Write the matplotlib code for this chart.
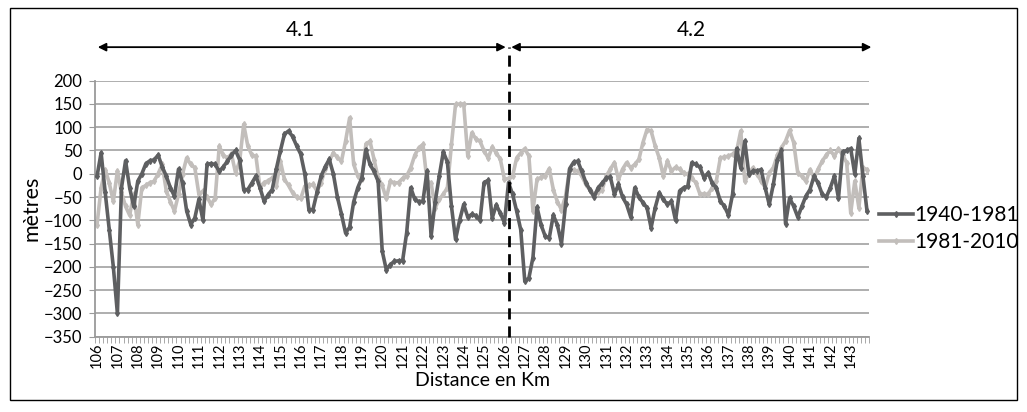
import numpy as np
import matplotlib
matplotlib.use("Agg")
import matplotlib.pyplot as plt
from matplotlib.patches import Rectangle

plt.rcParams['font.family'] = ['Lato', 'DejaVu Sans']

# distance along the river, one point every 0.2 km
km = np.round(106 + 0.2 * np.arange(190), 1)

s1940 = [-5, 45, -40, -120, -200,   -300, -30, 28, -30, -70,
         -16, 0, 22, 28, 30,        40, 15, -5, -30, -48,
         10, -20, -80, -109, -95,   -55, -100, 20, 22, 20,
         5, 15, 27, 40, 50,         30, -34, -34, -20, -5,
         -30, -59, -45, -34, 10,    49, 85, 92, 80, 60,
         42, 0, -77, -77, -40,      -5, 15, 31, 0, -50,
         -87, -127, -115, -60, -30, -9, 52, 20, 5, -16,
         -166, -206, -195, -188, -187, -187, -127, -30, -55, -60,
         -59, 6, -134, -60, -5,     47, 25, -70, -141, -100,
         -66, -93, -87, -90, -100,  -19, -14, -95, -67, -85,
         -105, -19, -44, -80, -120, -231, -224, -180, -72, -110,
         -134, -138, -89, -110, -150, -66, 11, 25, 27, 5,
         -19, -35, -50, -30, -20,   -9, -7, -44, -23, -50,
         -66, -93, -30, -50, -62,   -73, -116, -73, -41, -55,
         -66, -59, -100, -37, -30,  -27, 24, 20, 14, -9,
         2, -20, -30, -59, -70,     -89, -44, 54, 13, 70,
         -1, 6, 6, 9, -30,          -66, -23, 30, 50, -107,
         -52, -70, -93, -70, -48,   -34, -5, -20, -44, -50,
         -30, -5, -52, 47, 50,      54, -1, 76, -5, -80]

s1981 = [-109, -30, 9, -20, -59,    6, -40, -70, -89, -44,
         -109, -30, -25, -19, -16,  0, 20, -37, -60, -80,
         -44, 0, 34, 20, 13,        -44, -37, -50, -66, -52,
         59, 40, 34, 42, 2,         27, 106, 60, 40, 38,
         -30, -19, -15, -9, -27,    27, -12, -25, -41, -50,
         -53, -27, -25, -23, -37,   -19, 10, 27, 45, 35,
         27, 70, 120, 20, -5,       -12, 64, 70, 30, -9,
         -25, -53, -16, -20, -19,   -10, -5, 13, 40, 56,
         63, -16, -20, -73, -55,    -44, -30, 63, 149, 150,
         150, 38, 88, 75, 70,       49, 34, 57, 45, 31,
         -12, -10, -5, 34, 45,      54, 38, -79, -12, -8,
         -5, 11, -34, -60, -77,     -48, 9, 8, 6, -5,
         -23, -35, -44, -40, -34,   -5, 10, 24, -12, 10,
         24, 13, 20, 31, 67,        95, 92, 60, 34, -5,
         27, 6, 14, 10, 2,          -1, -10, -19, -44, -43,
         -44, -30, -16, 34, 36,     38, 42, 49, 92, -16,
         0, 13, -1, -15, -30,       2, 13, 40, 56, 70,
         93, 67, 2, -5, -16,        9, -9, 10, 27, 40,
         50, 38, 54, 40, 24,        -84, -16, -73, 13, 9]

labels = ["1940-1981", "1981-2010"]
split_km = 126.2

fig = plt.figure(figsize=(10.27, 4.12), dpi=100)
ax = fig.add_axes([0.0925, 0.1828, 0.7537, 0.6214])

ax.plot(km, s1940, color="#5e5f61", lw=2.6, marker="d", ms=3, label=labels[0], zorder=3)
ax.plot(km, s1981, color="#c2bebb", lw=2.6, marker="d", ms=3, label=labels[1], zorder=2)

ax.set_xlim(105.9, 143.9)
ax.set_ylim(-350, 200)
ax.set_yticks(np.arange(-350, 201, 50))
ax.set_xticks(np.arange(106, 144))
ax.set_xticklabels([str(k) for k in range(106, 144)], rotation=90, fontsize=10.5)
ax.set_xticks(np.arange(105.9, 143.95, 0.2), minor=True)
ax.tick_params(axis="x", which="major", length=0, pad=4)
ax.tick_params(axis="x", which="minor", length=4, color="#9a9a9a", direction="out")
ax.tick_params(axis="y", length=4, color="#9a9a9a", labelsize=12, pad=5)
ax.grid(axis="y", color="#a8a8a8", lw=1.3)
ax.set_axisbelow(True)
for side in ["top", "right"]:
    ax.spines[side].set_visible(False)
for side in ["left", "bottom"]:
    ax.spines[side].set_color("#9a9a9a")
    ax.spines[side].set_linewidth(1.3)

ax.set_ylabel("mètres", fontsize=15.5, labelpad=2)
ax.set_xlabel("Distance en Km", fontsize=14, labelpad=3)

# section arrows and separator
ax.plot([split_km, split_km], [-350, 272], color="black", lw=2, ls=(0, (4, 2.5)),
        clip_on=False, zorder=4)
ax.annotate("", xy=(105.9, 272), xytext=(split_km, 272),
            arrowprops=dict(arrowstyle="<|-|>", color="black", lw=1.3, mutation_scale=12),
            annotation_clip=False)
ax.annotate("", xy=(split_km, 272), xytext=(144.15, 272),
            arrowprops=dict(arrowstyle="<|-|>", color="black", lw=1.3, mutation_scale=12),
            annotation_clip=False)
ax.text(116.0, 309, "4.1", ha="center", va="center", fontsize=15)
ax.text(135.2, 309, "4.2", ha="center", va="center", fontsize=15)

fig.legend(loc="center left", bbox_to_anchor=(0.848, 0.445), frameon=False,
           fontsize=15, handlelength=1.6, handletextpad=0.1, labelspacing=0.35,
           borderaxespad=0)

fig.add_artist(Rectangle((0.0097, 0.029), 0.981, 0.952, transform=fig.transFigure,
                         fill=False, ec="black", lw=1))

fig.savefig("out.png", dpi=100)
